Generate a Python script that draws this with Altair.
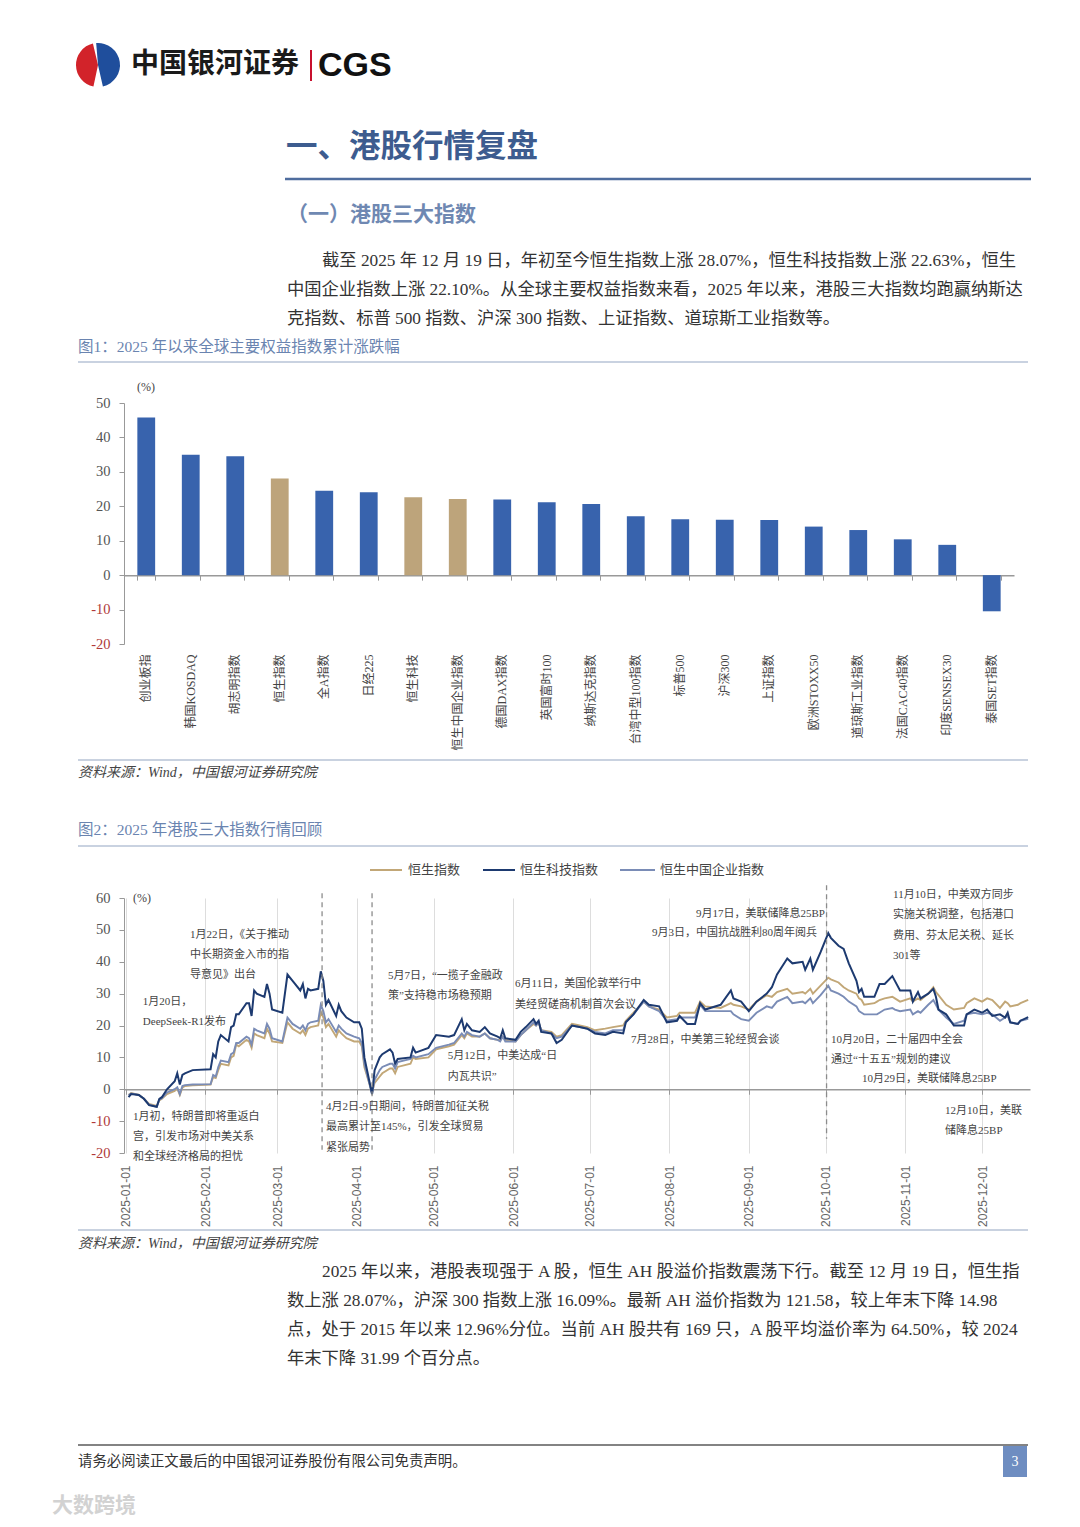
import altair as alt
import pandas as pd

# ---------------- Figure 1 data ----------------
bar_names = ["创业板指", "韩国KOSDAQ", "胡志明指数", "恒生指数", "全A指数", "日经225",
             "恒生科技", "恒生中国企业指数", "德国DAX指数", "英国富时100", "纳斯达克指数",
             "台湾中型100指数", "标普500", "沪深300", "上证指数", "欧洲STOXX50",
             "道琼斯工业指数", "法国CAC40指数", "印度SENSEX30", "泰国SET指数"]
bar_values = [45.8, 35.0, 34.5, 28.07, 24.5, 24.1, 22.63, 22.10, 22.0, 21.2, 20.7,
              17.1, 16.2, 16.09, 16.0, 14.1, 13.1, 10.4, 8.8, -10.5]
hk_indices = ["恒生指数", "恒生科技", "恒生中国企业指数"]
bar_y_ticks = [-20, -10, 0, 10, 20, 30, 40, 50]

# ---------------- Figure 2 data ----------------
line_dates = [
    "2025-01-02", "2025-01-03", "2025-01-06", "2025-01-08", "2025-01-10", "2025-01-13", "2025-01-14", "2025-01-15", "2025-01-17", "2025-01-20",
    "2025-01-21", "2025-01-22", "2025-01-23", "2025-01-24", "2025-01-27", "2025-02-03", "2025-02-04", "2025-02-05", "2025-02-06", "2025-02-07",
    "2025-02-10", "2025-02-11", "2025-02-12", "2025-02-13", "2025-02-14", "2025-02-17", "2025-02-18", "2025-02-19", "2025-02-20", "2025-02-21",
    "2025-02-24", "2025-02-25", "2025-02-26", "2025-02-27", "2025-03-03", "2025-03-05", "2025-03-07", "2025-03-10", "2025-03-11", "2025-03-12",
    "2025-03-13", "2025-03-14", "2025-03-17", "2025-03-18", "2025-03-19", "2025-03-20", "2025-03-21", "2025-03-24", "2025-03-25", "2025-03-26",
    "2025-03-28", "2025-03-31", "2025-04-02", "2025-04-03", "2025-04-04", "2025-04-07", "2025-04-08", "2025-04-10", "2025-04-11", "2025-04-14",
    "2025-04-15", "2025-04-16", "2025-04-17", "2025-04-22", "2025-04-23", "2025-04-24", "2025-04-29", "2025-05-02", "2025-05-07", "2025-05-09",
    "2025-05-12", "2025-05-13", "2025-05-14", "2025-05-16", "2025-05-19", "2025-05-21", "2025-05-23", "2025-05-26", "2025-05-27", "2025-05-28",
    "2025-05-29", "2025-06-02", "2025-06-04", "2025-06-06", "2025-06-09", "2025-06-10", "2025-06-11", "2025-06-12", "2025-06-16", "2025-06-18",
    "2025-06-20", "2025-06-24", "2025-06-27", "2025-06-30", "2025-07-03", "2025-07-07", "2025-07-10", "2025-07-14", "2025-07-15", "2025-07-18",
    "2025-07-22", "2025-07-24", "2025-07-28", "2025-07-31", "2025-08-04", "2025-08-05", "2025-08-08", "2025-08-11", "2025-08-13", "2025-08-15",
    "2025-08-21", "2025-08-25", "2025-08-26", "2025-08-29", "2025-09-01", "2025-09-04", "2025-09-08", "2025-09-10", "2025-09-12", "2025-09-16",
    "2025-09-18", "2025-09-22", "2025-09-23", "2025-09-25", "2025-09-26", "2025-09-29", "2025-10-02", "2025-10-03", "2025-10-06", "2025-10-08",
    "2025-10-10", "2025-10-13", "2025-10-14", "2025-10-15", "2025-10-16", "2025-10-20", "2025-10-21", "2025-10-22", "2025-10-24", "2025-10-27",
    "2025-10-28", "2025-10-30", "2025-11-03", "2025-11-04", "2025-11-06", "2025-11-07", "2025-11-10", "2025-11-12", "2025-11-13", "2025-11-14",
    "2025-11-17", "2025-11-20", "2025-11-24", "2025-11-25", "2025-11-28", "2025-12-01", "2025-12-03", "2025-12-05", "2025-12-08", "2025-12-10",
    "2025-12-11", "2025-12-12", "2025-12-15", "2025-12-16", "2025-12-19"]

hstech = [
    -2.5, -1.5, -1.8, -3.0, -5.0, -5.5, -3.0, -2.5, 0.0, 2.5,
    5.0, 1.5, 4.5, 5.0, 6.0, 6.3, 11.0, 10.0, 15.0, 17.0,
    15.0, 19.5, 20.0, 23.5, 23.5, 27.0, 27.0, 23.0, 31.0, 30.0,
    29.0, 33.0, 30.0, 25.0, 24.0, 36.0, 34.0, 31.0, 33.0, 28.5,
    31.5, 31.0, 31.5, 37.0, 34.0, 26.5, 28.0, 23.0, 26.5, 24.5,
    22.5, 21.0, 21.0, 19.0, 10.0, -1.5, 6.0, 10.0, 11.0, 12.5,
    11.5, 8.0, 9.5, 10.0, 13.0, 11.5, 13.0, 17.0, 16.5, 17.0,
    22.0, 18.5, 20.5, 18.5, 18.0, 19.5, 17.5, 16.5, 16.0, 18.5,
    16.0, 15.5, 18.0, 19.5, 22.0, 20.5, 21.5, 18.0, 17.5, 14.5,
    15.5, 20.0, 19.5, 19.0, 17.5, 17.0, 18.0, 17.5, 21.0, 23.5,
    28.0, 26.5, 26.0, 21.0, 21.5, 23.0, 20.5, 20.5, 27.0, 25.0,
    26.5, 31.0, 28.5, 27.5, 24.5, 27.5, 30.0, 32.0, 36.0, 41.0,
    39.5, 40.0, 37.5, 41.0, 37.5, 43.0, 49.0, 47.5, 45.0, 44.0,
    39.5, 34.0, 30.5, 31.5, 29.0, 29.0, 31.0, 33.0, 33.0, 35.5,
    34.0, 31.0, 31.0, 27.5, 30.5, 28.5, 30.0, 31.5, 29.0, 25.0,
    23.5, 20.0, 20.0, 23.5, 25.0, 24.0, 25.0, 23.0, 23.5, 22.5,
    24.0, 21.0, 20.5, 21.5, 22.63]

hsi = [
    -1.8, -1.2, -1.8, -3.0, -4.6, -5.2, -3.5, -3.0, -1.5, -0.5,
    0.3, -1.8, 0.5, 1.0, 1.2, 1.5, 3.8, 3.5, 6.0, 8.0,
    7.5, 10.0, 10.5, 14.0, 13.5, 15.5, 15.0, 13.0, 17.5, 17.0,
    16.0, 19.0, 17.5, 15.0, 14.5, 21.0, 19.0, 17.5, 18.5, 17.0,
    19.0, 19.5, 20.0, 24.2, 22.5, 19.5, 20.5, 16.5, 18.5, 17.5,
    16.0, 15.0, 15.0, 13.5, 7.0, -1.0, 2.0, 4.0, 5.0, 6.5,
    6.5, 5.0, 7.0, 8.0, 10.0, 9.5, 10.0, 12.5, 13.5, 14.0,
    17.0, 16.0, 17.5, 16.5, 16.5, 17.5, 16.0, 15.5, 15.5, 16.5,
    15.5, 15.0, 17.0, 18.5, 20.5, 20.0, 21.0, 18.5, 18.0, 16.5,
    17.0, 20.5, 20.0, 19.5, 18.5, 19.0, 19.5, 20.0, 21.5, 24.0,
    27.5, 26.0, 25.0, 22.5, 23.0, 24.0, 24.0, 24.0, 27.5, 26.0,
    25.5, 27.0, 26.5, 26.0, 25.0, 27.5, 29.5, 29.0, 30.5, 31.5,
    30.0, 30.5, 30.0, 31.5, 30.0, 32.5, 35.0, 34.5, 33.5, 32.0,
    31.0, 30.0, 28.5, 28.0, 26.5, 27.0, 27.5, 28.0, 28.5, 29.0,
    28.5, 27.5, 28.5, 27.5, 28.5, 28.0, 30.0, 32.0, 30.5, 29.5,
    26.5, 25.0, 25.5, 27.0, 28.5, 27.5, 28.5, 28.0, 25.5, 27.5,
    27.0, 26.0, 26.5, 27.0, 28.07]

hscei = [
    -1.8, -1.3, -1.8, -3.0, -4.8, -5.5, -3.3, -2.8, -1.0, 0.0,
    0.6, -1.5, 1.0, 1.3, 1.5, 1.6, 4.5, 4.0, 7.0, 9.0,
    8.5, 11.0, 11.5, 14.5, 14.5, 16.5, 16.0, 14.0, 19.0, 18.5,
    17.5, 20.5, 19.0, 16.0, 15.0, 22.5, 20.5, 19.0, 20.0, 18.5,
    20.5, 21.0, 21.5, 26.5, 24.5, 21.0, 22.0, 18.0, 20.0, 19.0,
    17.5, 16.5, 16.0, 14.5, 8.0, -1.5, 3.0, 6.0, 7.0, 8.0,
    8.0, 6.5, 8.5, 9.5, 10.5, 10.0, 11.0, 13.0, 14.0, 14.5,
    17.5, 16.5, 18.0, 17.0, 16.5, 17.5, 16.0, 15.5, 15.0, 16.5,
    15.0, 15.0, 17.0, 18.5, 21.0, 20.0, 21.0, 18.5, 17.5, 16.0,
    16.5, 20.0, 19.5, 19.0, 18.0, 17.5, 18.5, 18.5, 21.0, 23.5,
    27.5, 26.0, 24.5, 21.5, 22.0, 22.5, 22.5, 22.5, 26.5, 24.5,
    24.5, 24.5, 23.5, 22.0, 21.5, 24.0, 26.0, 25.5, 27.5, 29.0,
    27.0, 27.5, 27.0, 28.5, 27.0, 29.5, 32.5, 31.0, 30.0, 29.0,
    27.5, 26.0, 24.5, 24.0, 23.5, 23.5, 23.5, 24.0, 25.0, 25.5,
    25.0, 24.5, 25.0, 23.5, 24.5, 24.0, 26.5, 28.0, 26.5, 25.0,
    22.5, 20.5, 21.5, 23.5, 24.0, 23.5, 24.0, 23.5, 21.5, 22.5,
    23.0, 21.0, 20.5, 21.5, 22.10]

series_names = ["恒生指数", "恒生科技指数", "恒生中国企业指数"]
line_y_ticks = [-20, -10, 0, 10, 20, 30, 40, 50, 60]
month_ticks = ["2025-%02d-01" % m for m in range(1, 13)]

phase_dates = ["2025-03-18T12:00:00Z", "2025-04-07T00:00:00Z", "2025-10-01T08:00:00Z"]
phase_top = [61.5, 61.5, 64.0]
phase_bottom = [-19.0, -19.0, -15.5]

ann_left_text = [
    "1月22日，《关于推动", "中长期资金入市的指", "导意见》出台",
    "1月20日，", "DeepSeek-R1发布",
    "1月初，特朗普即将重返白", "宫，引发市场对中美关系", "和全球经济格局的担忧",
    "4月2日-9日期间，特朗普加征关税", "最高累计至145%，引发全球贸易", "紧张局势",
    "5月7日，“一揽子金融政", "策”支持稳市场稳预期",
    "6月11日，美国伦敦举行中", "美经贸磋商机制首次会议",
    "5月12日，中美达成“日", "内瓦共识”",
    "7月28日，中美第三轮经贸会谈",
    "11月10日，中美双方同步", "实施关税调整，包括港口", "费用、芬太尼关税、延长", "301等",
    "10月20日，二十届四中全会", "通过“十五五”规划的建议",
    "10月29日，美联储降息25BP",
    "12月10日，美联", "储降息25BP"]
ann_left_date = (
    ["2025-01-26T00:00:00Z"] * 3 + ["2025-01-07T14:00:00Z"] * 2 + ["2025-01-03T17:00:00Z"] * 3 +
    ["2025-03-20T00:00:00Z"] * 3 + ["2025-04-13T05:00:00Z"] * 2 + ["2025-06-01T19:00:00Z"] * 2 +
    ["2025-05-06T14:00:00Z"] * 2 + ["2025-07-17T00:00:00Z"] + ["2025-10-27T07:00:00Z"] * 4 +
    ["2025-10-03T02:00:00Z"] * 2 + ["2025-10-15T05:00:00Z"] + ["2025-11-16T14:00:00Z"] * 2)
ann_left_value = [48.3, 42.0, 35.8, 27.3, 21.0, -8.8, -15.1, -21.3, -5.6, -11.9, -18.5,
                  35.5, 29.2, 32.9, 26.4, 10.4, 3.8, 15.4, 60.9, 54.6, 48.0, 41.7,
                  15.4, 9.1, 3.1, -6.9, -13.2]
ann_right_text = ["9月17日，美联储降息25BP", "9月3日，中国抗战胜利80周年阅兵"]
ann_right_date = ["2025-09-30T17:00:00Z", "2025-09-27T14:00:00Z"]
ann_right_value = [54.9, 48.9]

# ---------------- page text ----------------
brand_cn = "中国银河证券"
brand_en = "CGS"
section_title = "一、港股行情复盘"
sub_title = "（一）港股三大指数"
para1 = ["截至 2025 年 12 月 19 日，年初至今恒生指数上涨 28.07%，恒生科技指数上涨 22.63%，恒生",
         "中国企业指数上涨 22.10%。从全球主要权益指数来看，2025 年以来，港股三大指数均跑赢纳斯达",
         "克指数、标普 500 指数、沪深 300 指数、上证指数、道琼斯工业指数等。"]
fig1_title = "图1：2025 年以来全球主要权益指数累计涨跌幅"
fig2_title = "图2：2025 年港股三大指数行情回顾"
source_text = "资料来源：Wind，中国银河证券研究院"
para2 = ["2025 年以来，港股表现强于 A 股，恒生 AH 股溢价指数震荡下行。截至 12 月 19 日，恒生指",
         "数上涨 28.07%，沪深 300 指数上涨 16.09%。最新 AH 溢价指数为 121.58，较上年末下降 14.98",
         "点，处于 2015 年以来 12.96%分位。当前 AH 股共有 169 只，A 股平均溢价率为 64.50%，较 2024",
         "年末下降 31.99 个百分点。"]
footer_text = "请务必阅读正文最后的中国银河证券股份有限公司免责声明。"
page_no = "3"
watermark = "大数跨境"

# ---------------- style / layout ----------------
SERIF = "'Liberation Serif', 'Noto Sans CJK SC', serif"
CJK = "'Noto Sans CJK SC', sans-serif"
SANS = "'Liberation Sans', 'Noto Sans CJK SC', sans-serif"
TAN, NAVY, SLATE, BLUE = "#C2A777", "#1D3A70", "#7A8CB6", "#3863AD"
SERIES_COLORS = [TAN, NAVY, SLATE]
TITLE_BLUE, FIG_BLUE, LINE_BLUE = "#3D5C8F", "#6A84B0", "#93A5C2"
BODY = 17.3

OX = 124
P1_TOP, P2_TOP, P3_TOP, P4_TOP, P5_TOP, PAGE_BOTTOM = 8, 403, 644, 898, 1153, 1519
TEXT_W = 906
BAR_W, BAR_H = 890, 241
LINE_W, LINE_H = 906, 255

BLANK = alt.Data(values=[{}])


def txt(s, px, py, top, size=BODY, color="#333333", font=SERIF, weight="normal",
        align="left", style="normal"):
    return alt.Chart(BLANK).mark_text(
        align=align, baseline="middle", font=font, fontSize=size, fontWeight=weight,
        fontStyle=style, color=color
    ).encode(x=alt.value(px - OX), y=alt.value(py - top), text=alt.value(s))


def hline(px1, px2, py, top, color, width):
    return alt.Chart(BLANK).mark_rule(color=color, strokeWidth=width).encode(
        x=alt.value(px1 - OX), x2=alt.value(px2 - OX), y=alt.value(py - top), y2=alt.value(py - top))


def vline(px, py1, py2, top, color, width):
    return alt.Chart(BLANK).mark_rule(color=color, strokeWidth=width).encode(
        x=alt.value(px - OX), x2=alt.value(px - OX), y=alt.value(py1 - top), y2=alt.value(py2 - top))


def rect(px1, px2, py1, py2, top, color):
    return alt.Chart(BLANK).mark_rect(color=color).encode(
        x=alt.value(px1 - OX), x2=alt.value(px2 - OX), y=alt.value(py1 - top), y2=alt.value(py2 - top))


def arc(cx, cy, top, t1, t2, color):
    return alt.Chart(BLANK).mark_arc(radius=22, radius2=0, theta=t1, theta2=t2, color=color).encode(
        x=alt.value(cx - OX), y=alt.value(cy - top))


def y_axis(values):
    return alt.Axis(title=None, orient="left", values=values, grid=False, labelFont=SERIF,
                    labelFontSize=14.5, labelColor=neg_color, labelExpr="'' + datum.value",
                    tickSize=5, tickColor="#999999", domainColor="#999999", labelPadding=9)


neg_color = {"condition": {"test": "datum.value < 0", "value": "#B03A3A"}, "value": "#555555"}

# ---------------- panel 1 : header ----------------
anchor = alt.Chart(BLANK).mark_rule(color="white", strokeWidth=1).encode(
    x=alt.value(-115.5), x2=alt.value(-114.5), y=alt.value(0.5), y2=alt.value(0.5))
p1_layers = [
    anchor,
    arc(98, 65, P1_TOP, 3.35, 6.05, "#D2232A"),
    arc(98, 65, P1_TOP, 6.2, 9.2, "#1F4E9C"),
    txt(brand_cn, 131, 65, P1_TOP, size=28, color="#1A1A1A", font=CJK, weight="bold"),
    vline(311, 50, 81, P1_TOP, "#C8102E", 2),
    txt(brand_en, 318, 66, P1_TOP, size=34, color="#111111", font=SANS, weight="bold"),
    txt(section_title, 286, 148, P1_TOP, size=31.5, color=TITLE_BLUE, font=CJK, weight="bold"),
    hline(285, 1031, 179, P1_TOP, "#4F6D9E", 2.5),
    txt(sub_title, 287, 215, P1_TOP, size=21, color="#6F88B2", font=CJK, weight="bold"),
    txt(para1[0], 322, 261, P1_TOP),
    txt(para1[1], 287, 290, P1_TOP),
    txt(para1[2], 287, 319, P1_TOP),
    txt(fig1_title, 78, 347, P1_TOP, size=15.5, color=FIG_BLUE),
    hline(78, 1028, 362, P1_TOP, LINE_BLUE, 1),
]
p1 = alt.layer(*p1_layers).properties(width=TEXT_W, height=P2_TOP - P1_TOP)

# ---------------- panel 2 : bar chart ----------------
bar_df = pd.DataFrame({"name": bar_names, "value": bar_values,
                       "grp": ["hk" if n in hk_indices else "other" for n in bar_names]})
bar_zero_off = BAR_H * 20 / 70.0

bars = alt.Chart(bar_df).mark_bar().encode(
    x=alt.X("name:N", sort=bar_names, scale=alt.Scale(paddingInner=0.6, paddingOuter=0.3),
            axis=alt.Axis(title=None, orient="bottom", labelAngle=-90, labelFont=SERIF, labelFontSize=12,
                          labelColor="#444444", ticks=False, domain=False, labelPadding=10, labelLimit=200)),
    y=alt.Y("value:Q", scale=alt.Scale(domain=[-20, 50], nice=False, zero=False), axis=y_axis(bar_y_ticks)),
    color=alt.Color("grp:N", scale=alt.Scale(domain=["other", "hk"], range=[BLUE, "#BDA47B"]), legend=None),
)
bar_zero = alt.Chart(bar_df).mark_bar(opacity=0).encode(
    x=alt.X("name:N", sort=bar_names,
            axis=alt.Axis(title=None, orient="bottom", offset=-bar_zero_off, labels=False, ticks=True,
                          tickBand="extent", tickSize=5, tickColor="#999999", domainColor="#999999",
                          domainWidth=1.5)),
    y=alt.Y("value:Q", axis=None),
)
bar_pct = txt("(%)", 137, 387, P2_TOP, size=12, color="#444444")
p2 = alt.layer(bars, bar_zero, bar_pct).resolve_axis(x="independent", y="independent").properties(
    width=BAR_W, height=BAR_H)

# ---------------- panel 3 : between charts (incl. legend of fig 2) ----------------
legend_sym_x = [(370, 402), (483, 515), (620, 655)]
legend_txt_x = [408, 520, 660]
p3_layers = [
    hline(78, 1028, 760, P3_TOP, LINE_BLUE, 1.2),
    txt(source_text, 78, 773, P3_TOP, size=14, color="#444444", style="italic"),
    txt(fig2_title, 78, 830, P3_TOP, size=15.5, color=FIG_BLUE),
    hline(78, 1028, 846, P3_TOP, LINE_BLUE, 1),
]
for (sx1, sx2), tx, name, col in zip(legend_sym_x, legend_txt_x, series_names, SERIES_COLORS):
    p3_layers.append(hline(sx1, sx2, 870, P3_TOP, col, 2))
    p3_layers.append(txt(name, tx, 870, P3_TOP, size=13, color="#444444", font=CJK))
p3 = alt.layer(*p3_layers).properties(width=TEXT_W, height=P4_TOP - P3_TOP)

# ---------------- panel 4 : line chart ----------------
def utc_ms(s):
    return int(pd.Timestamp(s, tz="UTC").value // 10**6)

x_domain = [utc_ms("2024-12-31T05:17:00"), utc_ms("2025-12-19T17:00:00")]
month_ms = [utc_ms(m) for m in month_ticks]

series_data = {"恒生指数": hsi, "恒生科技指数": hstech, "恒生中国企业指数": hscei}
rows = []
for name in series_names:
    vals = series_data[name]
    assert len(vals) == len(line_dates)
    for d, v in zip(line_dates, vals):
        rows.append({"date": d, "value": v, "series": name})
line_df = pd.DataFrame(rows)
line_zero_off = LINE_H * 20 / 80.0

x_scale = alt.Scale(type="utc", domain=x_domain)
y_scale = alt.Scale(domain=[-20, 60], nice=False, zero=False)

# draw order: HSI (tan), HSCEI (slate), HSTECH (navy) on top
draw_order = ["恒生指数", "恒生中国企业指数", "恒生科技指数"]
line_layers = []
for i, name in enumerate(draw_order):
    col = SERIES_COLORS[series_names.index(name)]
    if i == 0:
        xenc = alt.X("date:T", scale=x_scale,
                     axis=alt.Axis(title=None, orient="bottom", values=month_ms, format="%Y-%m-%d",
                                   labelAngle=-90, labelFont=SANS, labelFontSize=12, labelColor="#666666",
                                   ticks=False, domain=False, labelPadding=12))
        yenc = alt.Y("value:Q", scale=y_scale, axis=y_axis(line_y_ticks))
    else:
        xenc = alt.X("date:T", axis=None)
        yenc = alt.Y("value:Q", axis=None)
    line_layers.append(
        alt.Chart(line_df).transform_filter(alt.datum.series == name)
        .mark_line(color=col, strokeWidth=2.0 if name == "恒生科技指数" else 1.9)
        .encode(x=xenc, y=yenc)
    )

line_zero = alt.Chart(line_df).mark_line(opacity=0).encode(
    x=alt.X("date:T", axis=alt.Axis(title=None, orient="bottom", offset=-line_zero_off, labels=False,
                                    values=month_ms, ticks=True, tickSize=5, tickColor="#999999",
                                    domainColor="#999999", domainWidth=1.5)),
    y=alt.Y("value:Q", axis=None),
    detail="series:N",
)
phase_df = pd.DataFrame({"date": phase_dates, "top": phase_top, "bottom": phase_bottom})
phase_rules = alt.Chart(phase_df).mark_rule(color="#8C8C8C", strokeDash=[5, 4], strokeWidth=1.3).encode(
    x=alt.X("date:T", axis=None), y=alt.Y("top:Q", axis=None), y2="bottom:Q")

ann_l_df = pd.DataFrame({"date": ann_left_date, "value": ann_left_value, "label": ann_left_text})
ann_r_df = pd.DataFrame({"date": ann_right_date, "value": ann_right_value, "label": ann_right_text})
ann_l = alt.Chart(ann_l_df).mark_text(align="left", baseline="middle", font=SERIF, fontSize=11,
                                      color="#444444").encode(
    x=alt.X("date:T", axis=None), y=alt.Y("value:Q", axis=None), text="label:N")
ann_r = alt.Chart(ann_r_df).mark_text(align="right", baseline="middle", font=SERIF, fontSize=11,
                                      color="#444444").encode(
    x=alt.X("date:T", axis=None), y=alt.Y("value:Q", axis=None), text="label:N")
line_pct = txt("(%)", 133, 898, P4_TOP, size=12, color="#444444")

p4 = alt.layer(*line_layers, line_zero, phase_rules, ann_l, ann_r, line_pct).resolve_axis(
    x="independent", y="independent").properties(width=LINE_W, height=LINE_H)

# ---------------- panel 5 : bottom ----------------
p5_layers = [
    hline(78, 1028, 1230, P5_TOP, LINE_BLUE, 1.2),
    txt(source_text, 78, 1244, P5_TOP, size=14, color="#444444", style="italic"),
    txt(para2[0], 322, 1272, P5_TOP),
    txt(para2[1], 287, 1301, P5_TOP),
    txt(para2[2], 287, 1330, P5_TOP),
    txt(para2[3], 287, 1359, P5_TOP),
    hline(78, 1028, 1445, P5_TOP, "#5A5A5A", 1.5),
    txt(footer_text, 78, 1462, P5_TOP, size=14.4, color="#333333"),
    rect(1003, 1027, 1446, 1477, P5_TOP, "#6E8DC1"),
    txt(page_no, 1015, 1462, P5_TOP, size=14, color="white", align="center"),
    txt(watermark, 52, 1506, P5_TOP, size=21, color="#D2D2D2", font=CJK, weight="bold"),
]
p5 = alt.layer(*p5_layers).properties(width=TEXT_W, height=PAGE_BOTTOM - P5_TOP)

chart = alt.vconcat(p1, p2, p3, p4, p5, spacing=0, bounds="flush").properties(
    padding=0).configure_view(stroke=None)

chart.save("out.html", embed_options={"renderer": "svg", "actions": False})
